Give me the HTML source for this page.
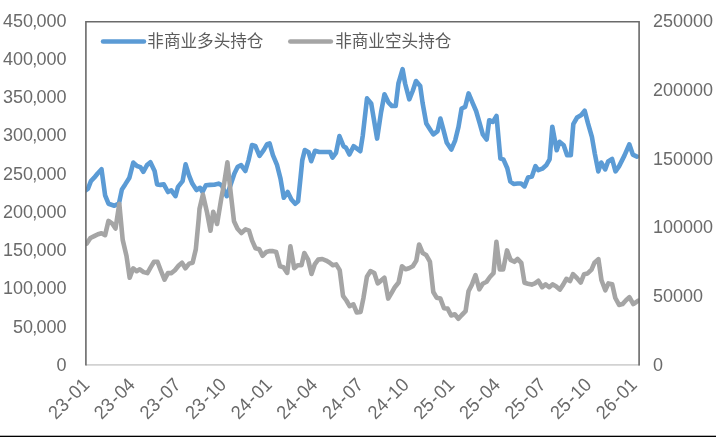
<!DOCTYPE html>
<html><head><meta charset="utf-8"><style>
html,body{margin:0;padding:0;background:#fff;}
svg{display:block;will-change:transform}
text{font-family:"Liberation Sans",sans-serif;font-size:18px;fill:#6a6a6a;}
</style></head><body>
<svg width="716" height="437" viewBox="0 0 716 437">
<rect width="716" height="437" fill="#fff"/>
<defs><clipPath id="c"><rect x="85.9" y="21.8" width="553.2" height="343"/></clipPath></defs>
<line x1="86" y1="364.8" x2="639.8" y2="364.8" stroke="#d2d2d2" stroke-width="1.8"/>
<g clip-path="url(#c)"><polyline points="85.9,190.3 88.0,188.6 90.9,181.1 94.2,177.7 97.6,173.5 101.5,169.3 105.1,195.3 108.5,203.7 114.4,205.7 118.9,203.7 121.9,189.4 125.2,184.4 129.4,177.7 133.3,162.6 137,166 140.3,167.1 143.3,171.8 147,165.1 150.4,162.3 154.6,171 157.1,184.4 160.4,184.9 163.8,184.4 168,192 171.3,190.3 175.5,196.1 178,186.9 182.6,181.1 185.6,164.3 188.9,175.2 192.3,183.6 196.5,190 200,187.8 202.5,192 205.9,185.3 210.1,184.9 214.3,184.8 218.5,183.6 221.8,185.3 226.8,196.2 234.4,173.5 237.7,166.8 241.1,165.2 245.3,171 248.6,160.1 252,145.1 255.3,145.9 259.5,155.9 263.7,150.1 267.1,144.2 269.6,143.4 272.9,155.1 277.1,165.2 280.5,178.6 283.8,197.8 287.7,192 291.4,199.5 295.2,203.7 298.1,201.2 300.6,176.9 302.3,160.1 304.8,150.1 308.6,152.3 311.2,161.2 315,150.8 319.2,152 323.4,152 330.1,152 332.5,157.6 336,152.9 339.4,136.1 343.5,146.2 346,147.8 349.4,154.5 353.6,146.2 360.3,151.2 362.8,135.3 367,98.4 371.2,103.4 377.1,138.6 381.1,112 384.5,94.3 388.6,102.7 391.9,106 395.7,106 398.4,83.5 402.6,69.2 405.1,83.5 409.3,99.4 412.7,91 416,81 420.2,86 422.6,103 426.3,123.5 430.1,129.4 433.4,134.4 437.6,131.1 440.4,118.5 443.5,130.2 446.8,142.8 451.3,149.5 455.2,140.3 458.5,126.9 461.6,108.5 465.2,106.8 468.6,93.4 472.8,103.4 476.1,111 479.5,122.7 482.8,134.4 486.7,139.5 489.2,120.2 492.9,121.9 496.5,116 500.4,158.6 503.4,159.4 507.3,168.2 510.3,181.5 513.7,184 517.6,183.5 521.1,183.5 524.5,186.4 528,177.6 531.9,176.6 535.4,166.2 538.3,170.2 542.3,168.7 546.2,165.3 549.6,159.4 552.3,126.8 556.7,150.2 559.5,141.8 563.7,145.2 567.1,155.2 570.8,155.2 573.3,124.2 577.1,117.5 581.3,115 584.7,110.8 588,123.4 591.9,136.8 594.8,153.6 598.3,171.4 601.2,162.5 605.2,169.4 608.1,161.5 612.1,159 615.5,171.4 619,166.4 624.4,155.6 629.3,144.3 632.8,154.6 637,156.6" fill="none" stroke="#5b9bd5" stroke-width="4.6" stroke-linejoin="round" stroke-linecap="round"/>
<polyline points="86.6,243.7 90.4,238 94.2,236.1 98,234.2 101.5,233.2 105.1,235.1 108.5,220.9 112.3,223.7 115.5,228.5 119.3,203.8 122.7,239.9 126.5,256 129.7,277.8 133.2,268.3 136.6,271.2 139.8,269.3 143.6,272.1 147.4,273.1 150.6,267.4 154,261.7 157.5,261.7 160.7,270.2 164.5,279.7 167.9,273.1 171.5,273.1 174.9,270.2 178.7,265.5 182,262.7 185.4,268.3 189.2,263.6 192.6,262.7 195.8,249.4 198.7,219 199.5,208.9 202.9,194.6 207.1,212.7 210.5,230.7 213.2,211.7 217.1,224 221.3,198.4 224.2,183.2 227.4,162.3 230.8,193.7 234,221.2 237.5,228.8 241.4,233 245.6,229.3 249,230.6 252.1,240.6 255.5,248.2 259.3,249.2 262.5,255.8 266.3,252 269.2,251.1 273,251.1 276.2,252 280,266.3 283.4,267.2 287.2,272.9 290.4,246.3 294.2,268.2 297.7,265.3 301.5,265.3 304.3,253 308.1,259.6 311.5,273.9 314.7,264.4 318.2,259.6 322.3,259 326.1,260.6 329.4,262.5 332.8,265.3 336.2,264.4 339.7,270.1 343,295.8 346.4,300.5 349.6,306.2 353.4,304.3 356.8,312.5 360.6,311.9 363.5,297.7 366.9,276.8 370.5,271.1 374.3,273 377.7,283.4 381.1,280.6 384.4,277.7 388.2,298.6 391.6,292.9 394.8,287.2 398.6,282.5 402,266.3 405.6,269.2 409,268.2 412.8,266.3 416.3,260.6 419.1,244.5 422.7,253 426.1,254.9 429.9,261.6 433.3,292 436.6,297.7 440.4,298.6 444,308.2 447.6,308.6 451.2,315.5 454.8,314.3 458.4,318.8 461.8,315 465.6,311.2 468.5,291.3 471.9,284.6 475.5,275.1 479.3,289.4 482.7,283.7 486.5,281.8 489.9,277 493.5,273.2 496.4,241.9 499.8,269.4 503.2,269.4 507,250.4 510.6,259.9 514.4,261.8 517.5,259 521.3,262.8 524.5,282.7 527.9,283.7 531.7,284.6 534.9,283.3 538.3,280.8 542.2,287.2 545.6,284.4 549.2,287.2 552.5,284.4 556,286.2 559.8,289.6 563,284.9 566.4,278.8 570,281.1 573,274.2 576.9,278 580.7,282.6 584.1,274.2 587.6,273.4 591.5,269.6 594.5,262.7 598.4,259.1 601.5,280.3 605.3,290.3 608.4,283.4 612.2,284.2 615.3,298 619.1,304.9 622.5,304.1 626,300.3 629.4,297.2 633.3,304.1 638.3,300.6" fill="none" stroke="#a5a5a5" stroke-width="4.6" stroke-linejoin="round" stroke-linecap="round"/>
</g>
<polyline points="85.9,365.6 85.9,21.8 639.1,21.8 639.1,365.6" fill="none" stroke="#6a6a6a" stroke-width="1.6"/>
<line x1="103" y1="41.5" x2="144" y2="41.5" stroke="#5b9bd5" stroke-width="4.5" stroke-linecap="round"/>
<line x1="290.3" y1="41.5" x2="330.9" y2="41.5" stroke="#a5a5a5" stroke-width="4.5" stroke-linecap="round"/>
<text x="147.3" y="47.1" style="font-family:'Liberation Sans','Noto Sans CJK SC',sans-serif;font-size:16.6px;fill:#5c5c5c;">非商业多头持仓</text>
<text x="335.2" y="47.1" style="font-family:'Liberation Sans','Noto Sans CJK SC',sans-serif;font-size:16.6px;fill:#5c5c5c;">非商业空头持仓</text>
<text transform="translate(66.6 26.65) scale(1 1.06)" text-anchor="end">450<tspan dx="-0.7">,</tspan><tspan dx="-0.7">000</tspan></text><text transform="translate(66.6 64.90) scale(1 1.06)" text-anchor="end">400<tspan dx="-0.7">,</tspan><tspan dx="-0.7">000</tspan></text><text transform="translate(66.6 103.15) scale(1 1.06)" text-anchor="end">350<tspan dx="-0.7">,</tspan><tspan dx="-0.7">000</tspan></text><text transform="translate(66.6 141.40) scale(1 1.06)" text-anchor="end">300<tspan dx="-0.7">,</tspan><tspan dx="-0.7">000</tspan></text><text transform="translate(66.6 179.65) scale(1 1.06)" text-anchor="end">250<tspan dx="-0.7">,</tspan><tspan dx="-0.7">000</tspan></text><text transform="translate(66.6 217.90) scale(1 1.06)" text-anchor="end">200<tspan dx="-0.7">,</tspan><tspan dx="-0.7">000</tspan></text><text transform="translate(66.6 256.15) scale(1 1.06)" text-anchor="end">150<tspan dx="-0.7">,</tspan><tspan dx="-0.7">000</tspan></text><text transform="translate(66.6 294.40) scale(1 1.06)" text-anchor="end">100<tspan dx="-0.7">,</tspan><tspan dx="-0.7">000</tspan></text><text transform="translate(66.6 332.65) scale(1 1.06)" text-anchor="end">50<tspan dx="-0.7">,</tspan><tspan dx="-0.7">000</tspan></text><text transform="translate(66.6 370.90) scale(1 1.06)" text-anchor="end">0</text><text transform="translate(653 26.80) scale(1 1.06)">250000</text><text transform="translate(653 95.65) scale(1 1.06)">200000</text><text transform="translate(653 164.50) scale(1 1.06)">150000</text><text transform="translate(653 233.35) scale(1 1.06)">100000</text><text transform="translate(653 302.20) scale(1 1.06)">50000</text><text transform="translate(653 371.05) scale(1 1.06)">0</text><text transform="translate(90.5 385.8) rotate(-45) scale(1 1.06)" text-anchor="end">23<tspan dx="1.3">-</tspan><tspan dx="1.3">01</tspan></text><text transform="translate(136.1 385.8) rotate(-45) scale(1 1.06)" text-anchor="end">23<tspan dx="1.3">-</tspan><tspan dx="1.3">04</tspan></text><text transform="translate(181.8 385.8) rotate(-45) scale(1 1.06)" text-anchor="end">23<tspan dx="1.3">-</tspan><tspan dx="1.3">07</tspan></text><text transform="translate(227.4 385.8) rotate(-45) scale(1 1.06)" text-anchor="end">23<tspan dx="1.3">-</tspan><tspan dx="1.3">10</tspan></text><text transform="translate(273.1 385.8) rotate(-45) scale(1 1.06)" text-anchor="end">24<tspan dx="1.3">-</tspan><tspan dx="1.3">01</tspan></text><text transform="translate(318.7 385.8) rotate(-45) scale(1 1.06)" text-anchor="end">24<tspan dx="1.3">-</tspan><tspan dx="1.3">04</tspan></text><text transform="translate(364.3 385.8) rotate(-45) scale(1 1.06)" text-anchor="end">24<tspan dx="1.3">-</tspan><tspan dx="1.3">07</tspan></text><text transform="translate(410.0 385.8) rotate(-45) scale(1 1.06)" text-anchor="end">24<tspan dx="1.3">-</tspan><tspan dx="1.3">10</tspan></text><text transform="translate(455.6 385.8) rotate(-45) scale(1 1.06)" text-anchor="end">25<tspan dx="1.3">-</tspan><tspan dx="1.3">01</tspan></text><text transform="translate(501.3 385.8) rotate(-45) scale(1 1.06)" text-anchor="end">25<tspan dx="1.3">-</tspan><tspan dx="1.3">04</tspan></text><text transform="translate(546.9 385.8) rotate(-45) scale(1 1.06)" text-anchor="end">25<tspan dx="1.3">-</tspan><tspan dx="1.3">07</tspan></text><text transform="translate(592.5 385.8) rotate(-45) scale(1 1.06)" text-anchor="end">25<tspan dx="1.3">-</tspan><tspan dx="1.3">10</tspan></text><text transform="translate(638.2 385.8) rotate(-45) scale(1 1.06)" text-anchor="end">26<tspan dx="1.3">-</tspan><tspan dx="1.3">01</tspan></text>
<rect x="0" y="435.7" width="716" height="1.3" fill="#000"/>
</svg>
</body></html>
